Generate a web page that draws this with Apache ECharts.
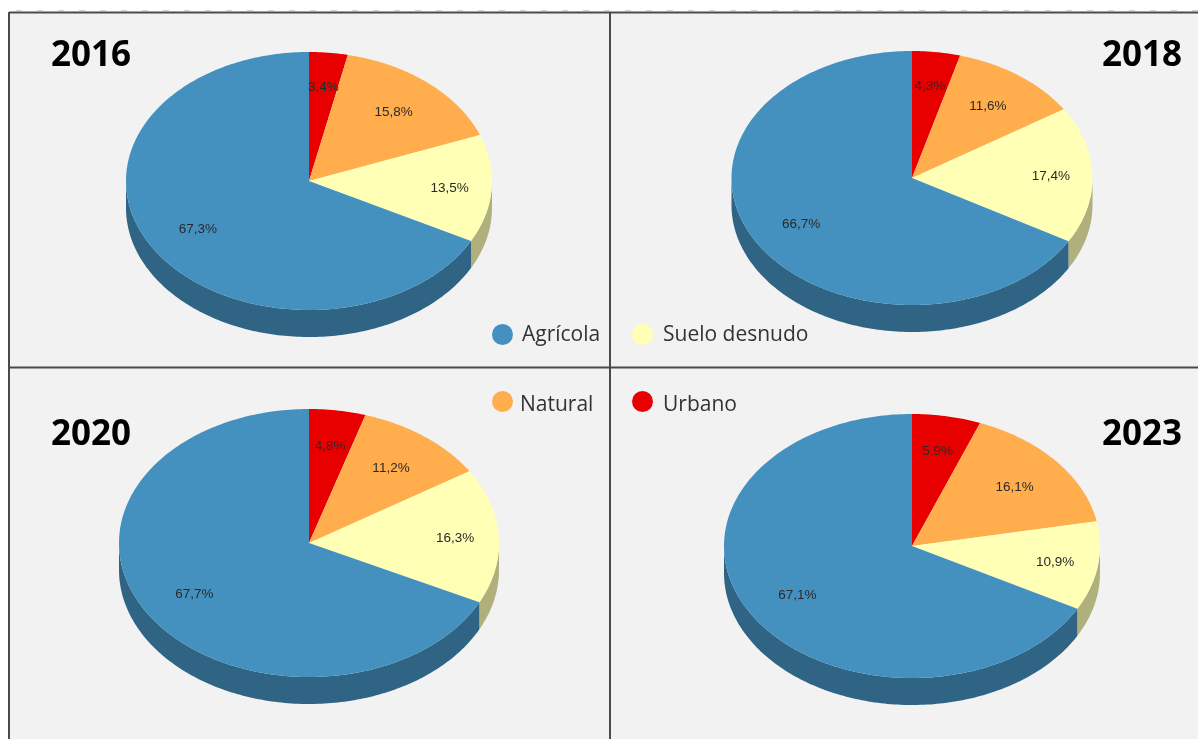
<!DOCTYPE html>
<html>
<head>
<meta charset="utf-8">
<style>html,body{margin:0;padding:0;background:#fff}#c{width:1198px;height:739px}</style>
<script src="https://cdn.jsdelivr.net/npm/echarts@6/dist/echarts.min.js"></script>
</head>
<body>
<div id="c"></div>
<script>
// Data: shares per year, in drawing order (clockwise from the top of each pie)
const years = ['2016', '2018', '2020', '2023'];
const categories = ['Urbano', 'Natural', 'Suelo desnudo', 'Agrícola'];
const urbano = [3.4, 4.3, 4.8, 5.9];
const natural = [15.8, 11.6, 11.2, 16.1];
const suelo = [13.5, 17.4, 16.3, 10.9];
const agricola = [67.3, 66.7, 67.7, 67.1];
const colors = ['#e80000', '#ffad4d', '#ffffb5', '#4491c0'];

const seriesValues = [urbano, natural, suelo, agricola];

// Layout of each pie panel
const pies = [
  {cx: 309, cy: 181, rx: 183, ry: 129, depth: 27},
  {cx: 912, cy: 178, rx: 180.5, ry: 127, depth: 27},
  {cx: 309, cy: 543, rx: 190, ry: 134, depth: 27},
  {cx: 912, cy: 546, rx: 188, ry: 132, depth: 27}
];
const labelRadius = [0.74, 0.71, 0.77, 0.71];
const titles = [
  {left: 51, top: 39}, {left: 1102, top: 39},
  {left: 51, top: 418}, {left: 1102, top: 418}
];
const legendPos = [
  {name: 'Urbano', left: 632, top: 391, gap: 5, drop: 8},
  {name: 'Natural', left: 492, top: 391, gap: 2, drop: 8},
  {name: 'Suelo desnudo', left: 632, top: 324, gap: 5, drop: 2},
  {name: 'Agrícola', left: 492, top: 324, gap: 4, drop: 2}
];

function shade(hex, f) {
  const n = parseInt(hex.slice(1), 16);
  const c = [(n >> 16) & 255, (n >> 8) & 255, n & 255].map(v => Math.round(v * f));
  return 'rgb(' + c.join(',') + ')';
}
function pt(p, deg, dy) {
  const t = deg * Math.PI / 180;
  return [p.cx + p.rx * Math.sin(t), p.cy - p.ry * Math.cos(t) + (dy || 0)];
}
function renderSlice(catIdx) {
  return function (params, api) {
    const y = api.value(0), v = api.value(1);
    const p = pies[y];
    let start = 0;
    for (let i = 0; i < catIdx; i++) start += seriesValues[i][y];
    const a = start * 3.6, b = (start + v) * 3.6;
    const children = [];
    // side wall: only the front half of the rim is visible
    const wa = Math.max(a, 90), wb = Math.min(b, 270);
    if (wb > wa) {
      const upper = [], lower = [];
      for (let d = wa; d < wb; d += 1) { upper.push(pt(p, d)); lower.push(pt(p, d, p.depth)); }
      upper.push(pt(p, wb)); lower.push(pt(p, wb, p.depth));
      children.push({type: 'polygon', z2: 1, shape: {points: upper.concat(lower.reverse())},
        style: {fill: shade(colors[catIdx], 0.69)}});
    }
    // top face
    const top = [[p.cx, p.cy]];
    for (let d = a; d < b; d += 1) top.push(pt(p, d));
    top.push(pt(p, b));
    children.push({type: 'polygon', z2: 2, shape: {points: top}, style: {fill: colors[catIdx]}});
    // value label
    const m = (a + b) / 2 * Math.PI / 180;
    const r = labelRadius[catIdx];
    children.push({type: 'text', z2: 50, style: {
      x: p.cx + r * p.rx * Math.sin(m),
      y: p.cy - r * p.ry * Math.cos(m) + 1,
      text: v.toFixed(1).replace('.', ',') + '%',
      fill: '#2a2a2a', font: '13.5px "Liberation Sans", Arial, sans-serif',
      textAlign: 'center', textVerticalAlign: 'middle'
    }});
    return {type: 'group', children: children};
  };
}

const line = (x1, y1, x2, y2) => ({type: 'line', z: 10, silent: true,
  shape: {x1, y1, x2, y2}, style: {stroke: '#4a4a4a', lineWidth: 2}});

const option = {
  animation: false,
  backgroundColor: '#ffffff',
  color: colors,
  title: years.map((t, i) => ({
    text: t, left: titles[i].left, top: titles[i].top, padding: 0,
    textStyle: {fontFamily: '"Open Sans"', fontWeight: 'bold', fontSize: 35, color: '#000'}
  })),
  legend: legendPos.map(l => ({
    data: [l.name], left: l.left, top: l.top, padding: 0, icon: 'circle',
    itemWidth: 21, itemHeight: 21, itemGap: 0, selectedMode: false,
    formatter: '{t|{name}}',
    textStyle: {
      fontFamily: '"Open Sans"', fontSize: 21, color: '#333', padding: [0, 0, 0, l.gap],
      rich: {t: {fontFamily: '"Open Sans"', fontSize: 21, color: '#333', padding: [l.drop, 0, 0, 0]}}
    }
  })),
  graphic: [
    {type: 'rect', z: -10, silent: true, shape: {x: 9, y: 12, width: 1189, height: 727}, style: {fill: '#f2f2f2'}},
    {type: 'line', z: 9, silent: true, shape: {x1: 16, y1: 10.5, x2: 1198, y2: 10.5},
      style: {stroke: '#d0d0d0', lineWidth: 1, lineDash: [6, 15]}},
    line(9, 12.5, 1198, 12.5),
    line(9, 12, 9, 739),
    line(9, 367.5, 1198, 367.5),
    line(610, 12, 610, 739)
  ],
  series: categories.map((name, c) => ({
    type: 'custom',
    name: name,
    coordinateSystem: 'none',
    renderItem: renderSlice(c),
    data: seriesValues[c].map((v, y) => [y, v])
  }))
};
const chart = echarts.init(document.getElementById('c'), null, {renderer: 'canvas'});
chart.setOption(option);
</script>
</body>
</html>
